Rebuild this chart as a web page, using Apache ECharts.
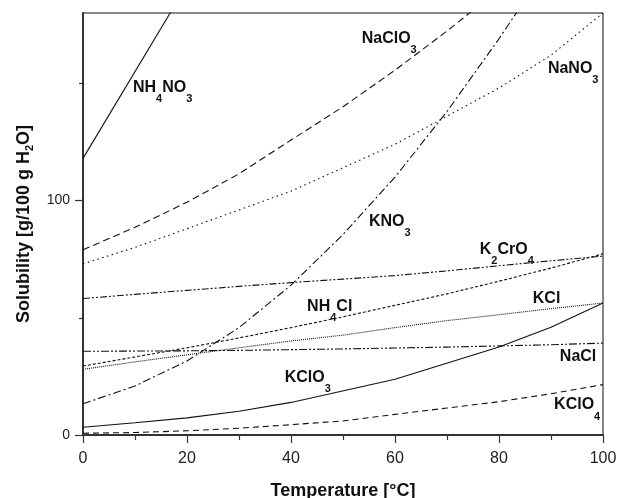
<!DOCTYPE html>
<html>
<head>
<meta charset="utf-8">
<script src="https://cdn.jsdelivr.net/npm/echarts@6/dist/echarts.min.js"></script>
<style>
html,body{margin:0;padding:0;background:#fff;}
#chart{width:619px;height:498px;}
</style>
</head>
<body>
<div id="chart"></div>
<script>
// ---- data (temperature in °C, solubility in g / 100 g H2O) ----
const temps    = [0, 10, 20, 30, 40, 50, 60, 70, 80, 90, 100];
const NH4NO3   = [118, null, 192, null, null, null, null, null, null, null, null];
const NaClO3   = [79, 88.6, 99.3, 111.4, 125.8, 140, 155.6, 172.3, 190, null, null];
const NaNO3    = [73, 80, 88, 96, 104, 114, 124, 136, 148, 162, 180];
const KNO3     = [13.3, 20.9, 31.6, 45.8, 63.9, 85.5, 110, 138, 169, 202, null];
const K2CrO4   = [58.2, 60, 61.7, 63.4, 65, 66.5, 68, 70, 72.2, 74.3, 76.3];
const NH4Cl    = [29.4, 33.3, 37.2, 41.4, 45.8, 50.4, 55.3, 60.2, 65.6, 71.2, 77.3];
const KCl      = [28.0, 31.2, 34.2, 37.2, 40.1, 42.6, 45.8, 48.8, 51.3, 53.9, 56.3];
const NaCl     = [35.7, 35.8, 35.9, 36.1, 36.4, 36.7, 37.1, 37.5, 38.0, 38.5, 39.2];
const KClO3    = [3.3, 5.2, 7.3, 10.1, 13.9, null, 23.8, null, 37.5, 46, 56.3];
const KClO4    = [0.76, 1.06, 1.8, 2.9, 4.4, 6.0, 8.8, 11.5, 14.2, 17.6, 21.5];

const xTicks      = [0, 20, 40, 60, 80, 100];
const yTicks      = [0, 100];
const yMinorTicks = [50, 150];

// ---- presentation ----
const FONT = '"Liberation Sans", Arial, sans-serif';
const rich = {
  m: {fontSize: 16, fontWeight: 'bold', fontFamily: FONT, color: '#111', lineHeight: 16, verticalAlign: 'top'},
  s: {fontSize: 11, fontWeight: 'bold', fontFamily: FONT, color: '#111', lineHeight: 11, verticalAlign: 'top', padding: [14, 0, 0, 0]}
};

function pairs(vals) {
  return temps.map((t, i) => [t, vals[i]]);
}

const seriesDefs = [
  {name: 'NH4NO3', vals: NH4NO3, dash: 'solid',            label: '{m|NH}{s|4}{m|NO}{s|3}', at: [9.6, 151.5]},
  {name: 'NaClO3', vals: NaClO3, dash: [7, 4],             label: '{m|NaClO}{s|3}',        at: [53.6, 172.5]},
  {name: 'NaNO3',  vals: NaNO3,  dash: [1.5, 3.5],         label: '{m|NaNO}{s|3}',         at: [89.4, 159.7]},
  {name: 'KNO3',   vals: KNO3,   dash: [8, 3, 2, 3],       label: '{m|KNO}{s|3}',          at: [55.0, 94.5]},
  {name: 'K2CrO4', vals: K2CrO4, dash: [7, 2, 2, 2, 2, 2], label: '{m|K}{s|2}{m|CrO}{s|4}', at: [76.3, 82.4]},
  {name: 'NH4Cl',  vals: NH4Cl,  dash: [3, 2],             label: '{m|NH}{s|4}{m|Cl}',     at: [43.1, 58.3]},
  {name: 'KCl',    vals: KCl,    dash: [1, 1],             label: '{m|KCl}',               at: [86.5, 61.8]},
  {name: 'NaCl',   vals: NaCl,   dash: [8, 2, 2, 2, 2, 2], label: '{m|NaCl}',              at: [91.7, 37.0]},
  {name: 'KClO3',  vals: KClO3,  dash: 'solid',            label: '{m|KClO}{s|3}',         at: [38.8, 27.8]},
  {name: 'KClO4',  vals: KClO4,  dash: [6, 4],             label: '{m|KClO}{s|4}',         at: [90.6, 16.2]}
];

const series = seriesDefs.map(d => ({
  name: d.name,
  type: 'line',
  data: pairs(d.vals),
  showSymbol: false,
  symbol: 'none',
  connectNulls: true,
  clip: true,
  silent: true,
  lineStyle: {color: '#111', width: 1.1, type: d.dash},
  markPoint: {
    silent: true,
    symbol: 'circle',
    symbolSize: 0,
    data: [{coord: d.at, value: 0}],
    label: {
      show: true,
      formatter: d.label,
      position: [0, 0],
      align: 'left',
      verticalAlign: 'top',
      rich: rich
    }
  }
}));

const chart = echarts.init(document.getElementById('chart'), null, {renderer: 'canvas'});
chart.setOption({
  animation: false,
  backgroundColor: '#fff',
  grid: {left: 83, right: 16, top: 13, bottom: 63, show: true, borderColor: '#111', borderWidth: 1,
         backgroundColor: 'transparent', containLabel: false, outerBoundsMode: 'none'},
  xAxis: {
    type: 'value', min: 0, max: 100, interval: 20,
    name: 'Temperature [°C]',
    nameLocation: 'middle', nameGap: 47,
    nameTextStyle: {fontSize: 18, fontWeight: 'bold', fontFamily: FONT, color: '#111'},
    axisLine: {show: true, lineStyle: {color: '#333', width: 2}},
    axisTick: {show: true, inside: false, length: 8, lineStyle: {color: '#333', width: 1.2}},
    minorTick: {show: true, splitNumber: 2, length: 5, lineStyle: {color: '#333', width: 1.2}},
    axisLabel: {customValues: xTicks, margin: 16, fontSize: 16, fontFamily: FONT, color: '#222'},
    splitLine: {show: false}
  },
  yAxis: [{
    type: 'value', min: 0, max: 180,
    name: 'Solubility [g/100 g H{s|2}O]',
    nameLocation: 'middle', nameGap: 48,
    nameTextStyle: {
      fontSize: 18, fontWeight: 'bold', fontFamily: FONT, color: '#111',
      rich: {s: {fontSize: 11, fontWeight: 'bold', fontFamily: FONT, color: '#111', padding: [10, 0, 0, 0]}}
    },
    axisLine: {show: true, lineStyle: {color: '#333', width: 2}},
    axisTick: {show: true, inside: false, length: 8, customValues: yTicks, lineStyle: {color: '#333', width: 1.2}},
    axisLabel: {customValues: yTicks, margin: 13, fontSize: 14, fontFamily: FONT, color: '#222'},
    splitLine: {show: false}
  }, {
    type: 'value', min: 0, max: 180, position: 'left',
    axisLine: {show: false},
    axisTick: {show: true, inside: false, length: 4, customValues: yMinorTicks, lineStyle: {color: '#333', width: 1.2}},
    axisLabel: {show: false},
    splitLine: {show: false}
  }],
  series: series
});
</script>
</body>
</html>
